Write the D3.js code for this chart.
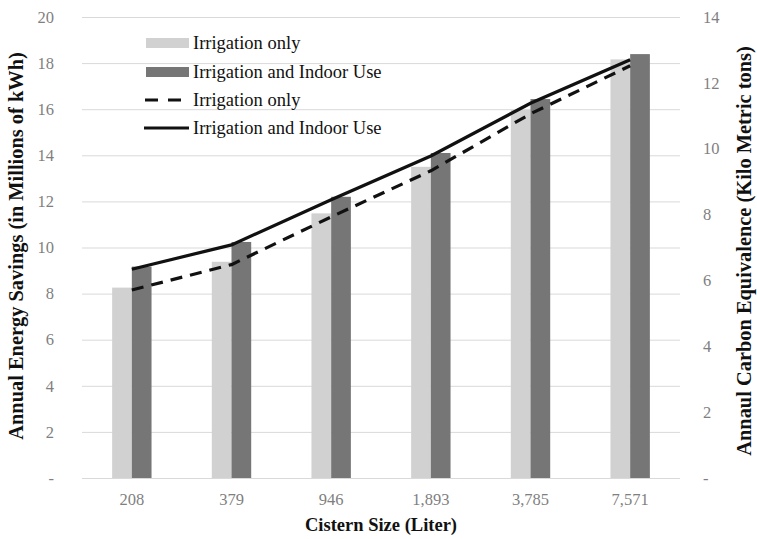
<!DOCTYPE html>
<html><head><meta charset="utf-8">
<script src="https://cdn.jsdelivr.net/npm/d3@7"></script>
<style>body{margin:0;background:#fff}svg{display:block}</style>
</head><body>
<svg id="c" width="757" height="539"></svg>
<script>
const categories = ["208","379","946","1,893","3,785","7,571"];
const barIrrigation = [8.26, 9.38, 11.48, 13.5, 15.97, 18.16];
const barIndoor = [9.17, 10.24, 12.2, 14.1, 16.44, 18.39];
const lineIrrigation = [5.71, 6.48, 7.93, 9.33, 11.06, 12.52];
const lineIndoor = [6.34, 7.08, 8.45, 9.78, 11.38, 12.7];
const leftTicks = [0,2,4,6,8,10,12,14,16,18,20];
const rightTicks = [0,2,4,6,8,10,12,14];
const legendLabels = ["Irrigation only","Irrigation and Indoor Use","Irrigation only","Irrigation and Indoor Use"];

const svg = d3.select("#c");
const m = {l:82, r:680, t:17, b:478};
const x = d3.scaleBand().domain(categories).range([m.l, m.r]);
const yL = d3.scaleLinear().domain([0,20]).range([m.b, m.t]);
const yR = d3.scaleLinear().domain([0,14]).range([m.b, m.t]);
const font = "'Liberation Serif','Times New Roman',serif";
const tickColor = "#7f7f7f";

// gridlines
svg.append("g").selectAll("line").data(leftTicks).join("line")
  .attr("x1", m.l).attr("x2", m.r)
  .attr("y1", d=>yL(d)+0.5).attr("y2", d=>yL(d)+0.5)
  .attr("stroke", "#d9d9d9").attr("stroke-width", 1);

// left ticks
svg.append("g").selectAll("text").data(leftTicks).join("text")
  .attr("x", 54).attr("y", d=>yL(d)).attr("dy","0.35em")
  .attr("text-anchor","end").attr("font-family",font).attr("font-size",16.5)
  .attr("fill",tickColor).text(d=> d===0 ? "-" : d);
// right ticks
svg.append("g").selectAll("text").data(rightTicks).join("text")
  .attr("x", 703).attr("y", d=>yR(d)).attr("dy","0.35em")
  .attr("text-anchor","start").attr("font-family",font).attr("font-size",16.5)
  .attr("fill",tickColor).text(d=> d===0 ? "-" : d);
// x ticks
svg.append("g").selectAll("text").data(categories).join("text")
  .attr("x", d=>x(d)+x.bandwidth()/2).attr("y", 505)
  .attr("text-anchor","middle").attr("font-family",font).attr("font-size",16.5)
  .attr("fill",tickColor).text(d=>d);

// bars
const bw = 19.7;
svg.append("g").selectAll("rect").data(categories).join("rect")
  .attr("x", d=>x(d)+x.bandwidth()/2-bw).attr("width", bw)
  .attr("y", (d,i)=>yL(barIrrigation[i])).attr("height",(d,i)=>m.b-yL(barIrrigation[i]))
  .attr("fill","#d0d1d0");
svg.append("g").selectAll("rect").data(categories).join("rect")
  .attr("x", d=>x(d)+x.bandwidth()/2).attr("width", bw)
  .attr("y", (d,i)=>yL(barIndoor[i])).attr("height",(d,i)=>m.b-yL(barIndoor[i]))
  .attr("fill","#767676");

// lines
const line = d3.line().x((d,i)=>x(categories[i])+x.bandwidth()/2).y(d=>yR(d));
svg.append("path").datum(lineIrrigation).attr("d",line).attr("fill","none")
  .attr("stroke","#111").attr("stroke-width",3.2).attr("stroke-dasharray","12,8");
svg.append("path").datum(lineIndoor).attr("d",line).attr("fill","none")
  .attr("stroke","#111").attr("stroke-width",3.2);

// legend
const ly = [43, 72, 100, 128];
const lg = svg.append("g");
lg.append("rect").attr("x",146).attr("y",ly[0]-5).attr("width",43).attr("height",10).attr("fill","#d0d1d0");
lg.append("rect").attr("x",146).attr("y",ly[1]-5).attr("width",43).attr("height",10).attr("fill","#767676");
lg.append("line").attr("x1",145).attr("x2",183).attr("y1",ly[2]).attr("y2",ly[2])
  .attr("stroke","#111").attr("stroke-width",3.2).attr("stroke-dasharray","13,10");
lg.append("line").attr("x1",144).attr("x2",189).attr("y1",ly[3]).attr("y2",ly[3])
  .attr("stroke","#111").attr("stroke-width",3.2);
lg.selectAll("text").data(legendLabels).join("text")
  .attr("x",193).attr("y",(d,i)=>ly[i]).attr("dy","0.35em")
  .attr("font-family",font).attr("font-size",18.5).attr("fill","#111").text(d=>d);

// axis titles
svg.append("text").attr("transform","translate(23,246) rotate(-90)")
  .attr("text-anchor","middle").attr("font-family",font).attr("font-weight","bold")
  .attr("font-size",20.4).attr("fill","#111").text("Annual Energy Savings (in Millions of kWh)");
svg.append("text").attr("transform","translate(751,251) rotate(-90)")
  .attr("text-anchor","middle").attr("font-family",font).attr("font-weight","bold")
  .attr("font-size",20.4).attr("fill","#111").text("Annaul Carbon Equivalence (Kilo Metric tons)");
svg.append("text").attr("x",381).attr("y",531)
  .attr("text-anchor","middle").attr("font-family",font).attr("font-weight","bold")
  .attr("font-size",18.5).attr("fill","#111").text("Cistern Size (Liter)");
</script>
</body></html>
